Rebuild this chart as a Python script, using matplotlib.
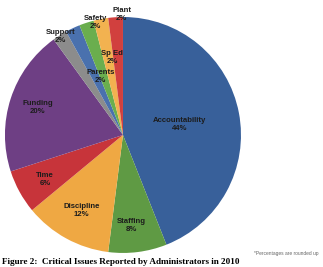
import numpy as np
import matplotlib
matplotlib.use("Agg")
import matplotlib.pyplot as plt

# slice data, clockwise from 12 o'clock
issues = ["Accountability", "Staffing", "Discipline", "Time", "Funding",
          "Support", "Parents", "Safety", "Sp Ed", "Plant"]
shares = [44, 8, 12, 6, 20, 2, 2, 2, 2, 2]
colors = ["#38609A", "#5F9A44", "#EFA843", "#C7343A", "#6E3F84",
          "#8C8C8C", "#4A71AE", "#6AAE4E", "#F2B250", "#D1403E"]

# label placement (distance from centre, angle nudge in degrees)
label_dist = [0.49, 0.77, 0.73, 0.76, 0.76, 0.99, 0.53, 0.98, 0.66, 1.02]
label_nudge = [0, -2, 0, 1, 0, 0, -4, -4, -3, -3]

fig = plt.figure(figsize=(3.23, 2.67), dpi=100)
ax = fig.add_axes([0, 0, 1, 1])

wedges, _ = ax.pie(shares, colors=colors, startangle=90, counterclock=False,
                   radius=1.0, center=(0, 0),
                   wedgeprops=dict(linewidth=0))

for w, name, val, d, nud in zip(wedges, issues, shares, label_dist, label_nudge):
    ang = np.deg2rad((w.theta1 + w.theta2) / 2 + nud)
    ax.text(d * np.cos(ang), d * np.sin(ang), f"{name}\n{val}%",
            ha="center", va="center", fontsize=5.6, fontweight="bold",
            color="#1c1c1c", family="Liberation Sans", linespacing=1.2)

ax.set_xlim(-1.042, 1.695)
ax.set_ylim(-1.119, 1.144)
ax.set_aspect("auto")
ax.axis("off")

fig.text(2 / 323, 1 - 262 / 267, "Figure 2:  Critical Issues Reported by Administrators in 2010",
         ha="left", va="center", fontsize=6.6, fontweight="bold",
         family="Liberation Serif", color="black")
fig.text(318 / 323, 1 - 253 / 267, "*Percentages are rounded up",
         ha="right", va="center", fontsize=3.5, family="Liberation Sans",
         color="#666666")

fig.savefig("out.png", dpi=100, facecolor="white")
